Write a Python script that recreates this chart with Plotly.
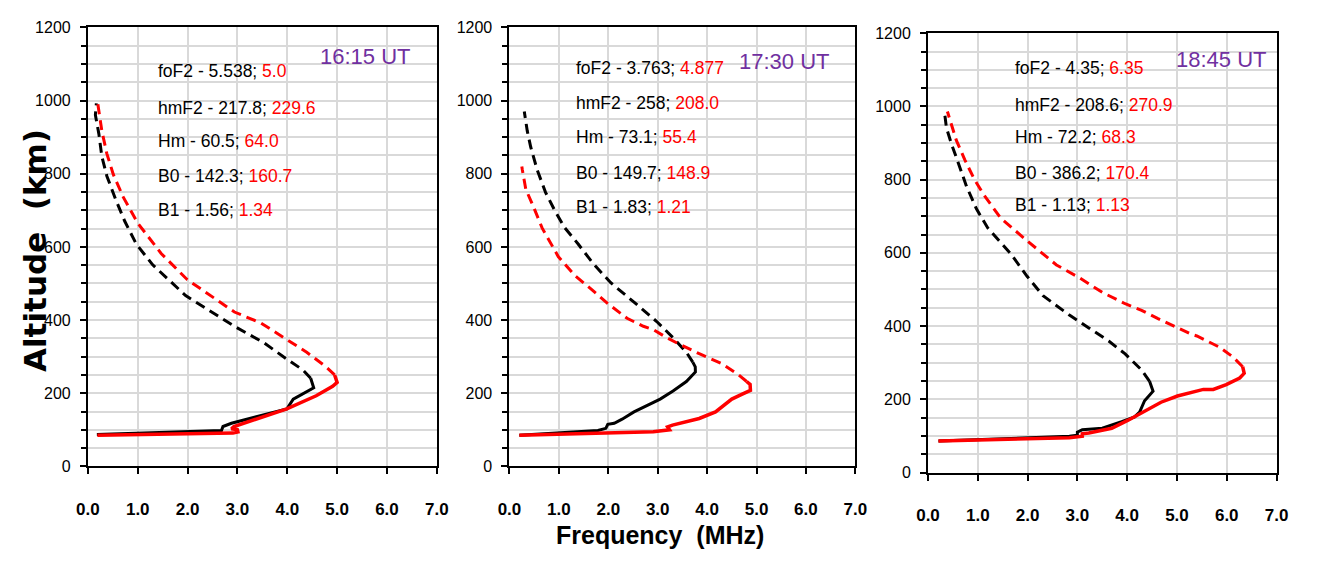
import plotly.graph_objects as go

# ---- profile data: frequency (MHz) vs altitude (km) ----
# 16:15 UT
p1_black_solid_f = [0.18, 2.68, 2.71, 2.78, 2.88, 3.99, 4.12, 4.53, 4.47]
p1_black_solid_h = [87, 98, 109, 113, 118, 157, 184, 215, 241]
p1_black_dash_f = [4.47, 4.32, 3.93, 3.53, 2.94, 2.42, 1.96, 1.30, 0.97, 0.74, 0.55, 0.38, 0.28, 0.22, 0.15, 0.17]
p1_black_dash_h = [241, 263, 299, 338, 383, 427, 467, 551, 608, 670, 732, 794, 847, 909, 961, 992]
p1_red_solid_f = [0.19, 2.91, 3.01, 3.0, 2.88, 2.93, 3.99, 4.58, 4.91, 5.0, 4.95]
p1_red_solid_h = [85, 91, 94, 100, 103, 109, 157, 193, 219, 229.6, 250]
p1_red_dash_f = [4.95, 4.78, 4.39, 3.99, 3.47, 2.94, 2.42, 1.99, 1.47, 1.0, 0.71, 0.51, 0.38, 0.28, 0.2]
p1_red_dash_h = [250, 272, 312, 347, 392, 422, 471, 511, 582, 665, 736, 798, 855, 917, 990]

# 17:30 UT
p2_black_solid_f = [0.2, 1.79, 1.95, 1.99, 2.12, 2.28, 2.52, 2.78, 3.05, 3.31, 3.58, 3.763, 3.76, 3.71]
p2_black_solid_h = [85, 98, 104, 115, 118, 129, 149, 166, 184, 206, 232, 258, 272, 285]
p2_black_dash_f = [3.71, 3.58, 3.31, 2.98, 2.52, 2.05, 1.69, 1.39, 1.12, 0.93, 0.73, 0.56, 0.43, 0.36, 0.30]
p2_black_dash_h = [285, 312, 352, 396, 449, 502, 555, 608, 652, 696, 749, 811, 873, 917, 970]
p2_red_solid_f = [0.2, 2.12, 2.91, 3.24, 3.2, 3.3, 3.44, 3.84, 4.17, 4.37, 4.5, 4.70, 4.877, 4.87, 4.80]
p2_red_solid_h = [85, 91, 95, 100, 108, 113, 118, 131, 149, 171, 184, 197, 208, 224, 232]
p2_red_dash_f = [4.80, 4.64, 4.30, 3.84, 3.44, 3.18, 2.91, 2.71, 2.38, 1.99, 1.66, 1.32, 0.99, 0.66, 0.50, 0.33, 0.26, 0.25]
p2_red_dash_h = [232, 250, 281, 308, 334, 352, 374, 383, 405, 445, 484, 522, 573, 652, 705, 758, 811, 820]

# 18:45 UT
p3_black_solid_f = [0.21, 2.84, 3.0, 3.0, 3.10, 3.5, 3.89, 4.15, 4.25, 4.35, 4.52, 4.45]
p3_black_solid_h = [86, 99, 102, 110, 117, 121, 139, 152, 165, 196, 222, 249]
p3_black_dash_f = [4.45, 4.29, 3.96, 3.63, 3.23, 2.84, 2.31, 1.99, 1.66, 1.2, 0.97, 0.77, 0.61, 0.47, 0.37, 0.33]
p3_black_dash_h = [249, 280, 324, 359, 395, 430, 483, 536, 598, 668, 721, 783, 845, 898, 942, 986]
p3_red_solid_f = [0.21, 2.84, 3.1, 3.1, 3.23, 3.69, 4.02, 4.25, 4.68, 5.01, 5.27, 5.53, 5.73, 5.99, 6.26, 6.35, 6.32]
p3_red_solid_h = [86, 95, 99, 106, 108, 121, 143, 161, 192, 209, 218, 227, 227, 240, 258, 270.9, 289]
p3_red_dash_f = [6.32, 6.13, 5.86, 5.67, 5.40, 5.3, 5.01, 4.61, 4.29, 3.96, 3.50, 3.04, 2.58, 1.99, 1.46, 1.13, 0.93, 0.74, 0.57, 0.47, 0.39]
p3_red_dash_h = [289, 315, 342, 355, 373, 377, 395, 421, 443, 461, 492, 532, 567, 633, 695, 757, 801, 854, 907, 951, 986]

# ---- panel labels ----
times = ["16:15 UT", "17:30 UT", "18:45 UT"]
param_names = ["foF2", "hmF2", "Hm", "B0", "B1"]
black_params = [
    ["5.538", "217.8", "60.5", "142.3", "1.56"],
    ["3.763", "258", "73.1", "149.7", "1.83"],
    ["4.35", "208.6", "72.2", "386.2", "1.13"],
]
red_params = [
    ["5.0", "229.6", "64.0", "160.7", "1.34"],
    ["4.877", "208.0", "55.4", "148.9", "1.21"],
    ["6.35", "270.9", "68.3", "170.4", "1.13"],
]
freq_ticks = [0, 1, 2, 3, 4, 5, 6, 7]
alt_ticks = [0, 200, 400, 600, 800, 1000, 1200]

panels = [
    (p1_black_solid_f, p1_black_solid_h, p1_black_dash_f, p1_black_dash_h,
     p1_red_solid_f, p1_red_solid_h, p1_red_dash_f, p1_red_dash_h),
    (p2_black_solid_f, p2_black_solid_h, p2_black_dash_f, p2_black_dash_h,
     p2_red_solid_f, p2_red_solid_h, p2_red_dash_f, p2_red_dash_h),
    (p3_black_solid_f, p3_black_solid_h, p3_black_dash_f, p3_black_dash_h,
     p3_red_solid_f, p3_red_solid_h, p3_red_dash_f, p3_red_dash_h),
]

# ---- layout geometry (pixels in a 1317 x 562 canvas) ----
W, H = 1317, 562
plot_boxes = [  # (left, right, top, bottom)
    (77.3, 432.7, 20.0, 472.7),
    (506.7, 859.0, 20.0, 472.7),
    (933.0, 1288.0, 26.0, 479.0),
]
# annotation anchor positions in data units: (text_x, line_y list, title_x, title_y)
label_pos = [
    (1.37, [1081, 980, 890, 795, 702], 5.57, 1120),
    (1.30, [1089, 993, 900, 802, 709], 5.57, 1107),
    (1.70, [1105, 1004, 917, 819, 731], 5.90, 1128),
]

SANS = "Liberation Sans, Arial, sans-serif"
GRID = "#d9d9d9"
DASH = "10px,6px"

fig = go.Figure()
layout_axes = {}
annotations = []

for i, (bsf, bsh, bdf, bdh, rsf, rsh, rdf, rdh) in enumerate(panels):
    n = "" if i == 0 else str(i + 1)
    xa, ya = "x" + n, "y" + n
    fig.add_trace(go.Scatter(x=bdf, y=bdh, mode="lines", xaxis=xa, yaxis=ya,
                             line=dict(color="black", width=3, dash=DASH)))
    fig.add_trace(go.Scatter(x=rdf, y=rdh, mode="lines", xaxis=xa, yaxis=ya,
                             line=dict(color="#ff0000", width=3, dash=DASH)))
    fig.add_trace(go.Scatter(x=bsf, y=bsh, mode="lines", xaxis=xa, yaxis=ya,
                             line=dict(color="black", width=3)))
    fig.add_trace(go.Scatter(x=rsf, y=rsh, mode="lines", xaxis=xa, yaxis=ya,
                             line=dict(color="#ff0000", width=3.5)))

    l, r, t, b = plot_boxes[i]
    layout_axes["xaxis" + n] = dict(
        domain=[l / W, r / W], anchor=ya, range=[0, 7],
        tickvals=freq_ticks, ticktext=[f"{v:.1f}" for v in freq_ticks],
        showgrid=True, gridcolor=GRID, gridwidth=2,
        showline=True, linecolor="black", linewidth=2, mirror=True,
        ticks="outside", ticklen=6, tickwidth=1.5, tickcolor="black",
        ticklabelstandoff=20,
        tickfont=dict(family=SANS, size=17, color="black", weight="bold"),
        zeroline=False, fixedrange=True,
    )
    layout_axes["yaxis" + n] = dict(
        domain=[1 - b / H, 1 - t / H], anchor=xa, range=[0, 1200],
        tickvals=alt_ticks,
        showgrid=True, gridcolor=GRID, gridwidth=2,
        minor=dict(dtick=50, showgrid=True, gridcolor=GRID, gridwidth=2,
                   ticks="outside", ticklen=5, tickwidth=1.5, tickcolor="black"),
        showline=True, linecolor="black", linewidth=2, mirror=True,
        ticks="outside", ticklen=6, tickwidth=1.5, tickcolor="black",
        ticklabelstandoff=6,
        tickfont=dict(family=SANS, size=16, color="black"),
        zeroline=False, fixedrange=True,
    )

    tx, ly, ttx, tty = label_pos[i]
    for k, name in enumerate(param_names):
        annotations.append(dict(
            x=tx, y=ly[k], xref=xa, yref=ya, xanchor="left", yanchor="middle",
            showarrow=False,
            text=f"{name} - {black_params[i][k]}; "
                 f"<span style='color:#ff0000'>{red_params[i][k]}</span>",
            font=dict(family=SANS, size=17.5, color="black"),
        ))
    annotations.append(dict(
        x=ttx, y=tty, xref=xa, yref=ya, xanchor="center", yanchor="middle",
        showarrow=False, text=times[i],
        font=dict(family=SANS, size=22, color="#7030a0"),
    ))

annotations.append(dict(
    x=660 / W, y=1 - 543 / H, xref="paper", yref="paper",
    xanchor="center", yanchor="middle", showarrow=False,
    text="Frequency  (MHz)",
    font=dict(family=SANS, size=25, color="black", weight="bold"),
))
annotations.append(dict(
    x=24 / W, y=1 - 250 / H, xref="paper", yref="paper",
    xanchor="center", yanchor="middle", showarrow=False, textangle=-90,
    text="Altitude  (km)",
    font=dict(family="DejaVu Sans, Arial, sans-serif", size=31, color="black",
              weight="bold"),
))

fig.update_layout(
    width=W, height=H, margin=dict(l=0, r=0, t=0, b=0),
    paper_bgcolor="white", plot_bgcolor="white",
    showlegend=False, annotations=annotations, **layout_axes,
)

# the page body keeps no default margin so the figure fills the window exactly
fig.write_html(
    "out.html",
    config={"displayModeBar": False},
    post_script="document.body.style.margin='0';"
                "document.body.style.overflow='hidden';",
)
